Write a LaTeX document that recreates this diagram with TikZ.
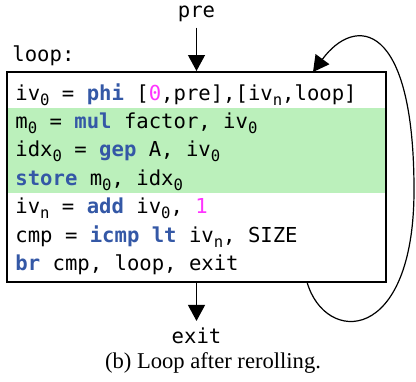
\documentclass[tikz,border=0pt]{standalone}
\usepackage{fontspec}
\setmainfont{Liberation Serif}
\setmonofont{DejaVu Sans Mono}
\usetikzlibrary{arrows.meta,positioning}

\definecolor{kwblue}{RGB}{52,88,166}
\definecolor{numpink}{RGB}{255,51,255}
\definecolor{rerollgreen}{RGB}{187,240,187}

\newcommand{\kw}[1]{\textcolor{kwblue}{\textbf{#1}}}
\newcommand{\nm}[1]{\textcolor{numpink}{#1}}
\newcommand{\sbs}[1]{\raisebox{-0.45ex}{\fontsize{7.8}{8}\selectfont #1}}

\begin{document}
\begin{tikzpicture}[x=0.5pt,y=-0.5pt]
    		\newcommand{\xcode}{15}
    		\newcommand{\ycode}{100}
    		\newcommand{\vertspac}{28.4} % distance between code lines
    		
    		% set the styles of the code and the edges
    		\tikzset{
    			code/.style={
    				anchor=base west,
    				inner sep=0pt,
    				font=\ttfamily\fontsize{10.3}{12}\selectfont
    				},
    			lbl/.style={
    				inner sep=3pt,
    				font=\ttfamily\fontsize{10.3}{12}\selectfont
    				},
    			cfg/.style={
    				-{Triangle[length=8pt,width=8.5pt]},
    				line width=0.6pt
    				}
    		}
    		
    		\useasboundingbox (0,0) rectangle (416,381);
    	
    		% basic block
    		\fill[rerollgreen] (7,108) rectangle (386,193);
    		\node[draw, line width=1pt, minimum width=189.5pt, minimum height=105pt, inner sep=0pt] (body) at (196.5,177) {};
    		\node[code] (head) at (12,61.5) {loop:};
    	
    		% instructions
		    \node[code] (phi) at (\xcode,\ycode) {iv\sbs{0} = \kw{phi} [\nm{0},pre],[iv\sbs{n},loop]};
		    \node[code] (mul) at (\xcode,\ycode+1*\vertspac) {m\sbs{0} = \kw{mul} factor, iv\sbs{0}};
		    \node[code] (gep) at (\xcode,\ycode+2*\vertspac) {idx\sbs{0} = \kw{gep} A, iv\sbs{0}};
		    \node[code] (store) at (\xcode,\ycode+3*\vertspac) {\kw{store} m\sbs{0}, idx\sbs{0}};
		    \node[code] (add) at (\xcode,\ycode+4*\vertspac) {iv\sbs{n} = \kw{add} iv\sbs{0}, \nm{1}};
		    \node[code] (cmp) at (\xcode,\ycode+5*\vertspac) {cmp = \kw{icmp lt} iv\sbs{n}, SIZE};
		    \node[code] (br) at (\xcode,\ycode+6*\vertspac) {\kw{br} cmp, loop, exit};
		    
		    % predecessor and successor
		    \node[lbl, anchor=base] (pre) at (196.5,17) {pre};
		    \node[lbl, anchor=base] (exit) at (196.5,343) {exit};
		    \coordinate (latch) at (307,282);
		    \coordinate (entry) at (313,72);

			% edges
			\draw[cfg] (pre) -- (body.north);
			\draw[cfg] (body.south) -- (exit);
			\draw[cfg] (latch) .. controls (325,345) and (414,345) .. (414,190)
			                   .. controls (414,20) and (355,15) .. (entry);
		      
		    % caption
		    \node[font=\fontsize{11.3}{13}\selectfont] (caption) at (213,363) {(b) Loop after rerolling.};
		      
\end{tikzpicture}
\end{document}
